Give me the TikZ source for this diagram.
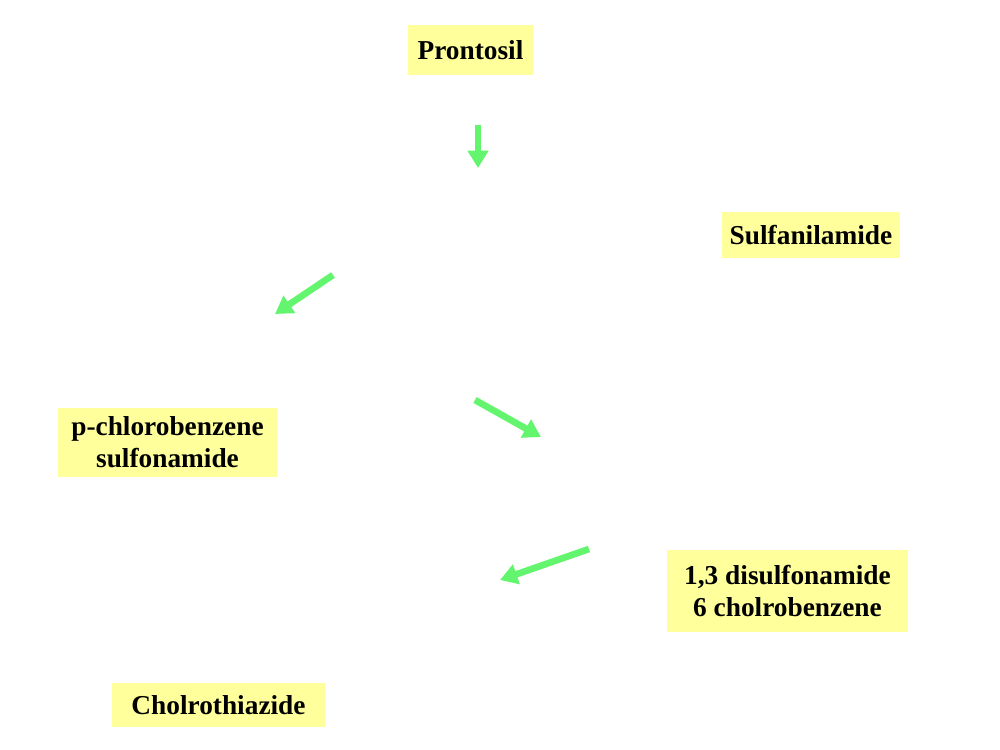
\documentclass[tikz,border=0pt]{standalone}
\usepackage{fontspec}
\setmainfont{Liberation Serif}
\usetikzlibrary{arrows.meta}
\definecolor{boxyellow}{RGB}{255,255,156}
\definecolor{arrowgreen}{RGB}{100,245,110}
\tikzset{
  labelbox/.style={fill=boxyellow, inner sep=0pt, align=center,
    font=\bfseries\fontsize{20.5pt}{24pt}\selectfont},
  greenarrow/.style={draw=arrowgreen, line width=5pt,
    -{Triangle[length=13pt,width=15pt]}}
}
\begin{document}
\begin{tikzpicture}[x=0.75pt,y=-0.75pt]
\useasboundingbox (0,0) rectangle (1000,750);
\node[labelbox, minimum width=93.75pt, minimum height=37.5pt] (pron) at (470.5,50) {Prontosil};
\node[labelbox, minimum width=133.5pt, minimum height=34.5pt] (sulf) at (811,235) {Sulfanilamide};
\node[labelbox, minimum width=164.25pt, minimum height=51.75pt] (pchl) at (167.5,442.5) {p-chlorobenzene\\sulfonamide};
\node[labelbox, minimum width=180.75pt, minimum height=61.5pt] (disu) at (787.5,591) {1,3 disulfonamide\\6 cholrobenzene};
\node[labelbox, minimum width=159.75pt, minimum height=33pt] (chlo) at (218.5,705) {Cholrothiazide};
\coordinate (a1s) at (478,125); \coordinate (a1e) at (478,168);
\coordinate (a2s) at (333,275); \coordinate (a2e) at (275,314);
\coordinate (a3s) at (475,400); \coordinate (a3e) at (541,437);
\coordinate (a4s) at (589,549); \coordinate (a4e) at (500,580);
\draw[greenarrow] (a1s) -- (a1e);
\draw[greenarrow] (a2s) -- (a2e);
\draw[greenarrow] (a3s) -- (a3e);
\draw[greenarrow] (a4s) -- (a4e);
\end{tikzpicture}
\end{document}
